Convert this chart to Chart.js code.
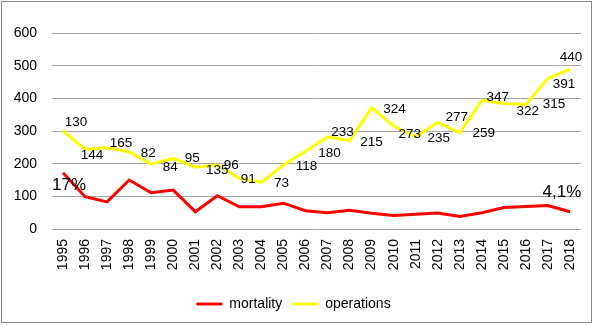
<!DOCTYPE html>
<html>
<head>
<meta charset="utf-8">
<script src="https://cdn.jsdelivr.net/npm/chart.js@4.4.1/dist/chart.umd.min.js"></script>
<style>
html,body{margin:0;padding:0;background:#fff;}
canvas{display:block;}
</style>
</head>
<body>
<canvas id="c" width="597" height="326"></canvas>
<script>
const years = ['1995','1996','1997','1998','1999','2000','2001','2002','2003','2004','2005','2006','2007','2008','2009','2010','2011','2012','2013','2014','2015','2016','2017','2018'];
const operations = [300,244,249,236,199,216,189,196,155,143,196,238,282,270,371,315,282,326,294,394,384,381,461,489];
const mortality = [172,99,83,150,111,119,53,102,68,68,79,56,50,57,48,41,45,49,38,50,66,69,72,53];
const operationLabels = ['130','144','165','82','84','95','135','96','91','73','118','180','233','215','324','273','235','277','259','347','322','315','391','440'];
const mortalityLabels = ['17%','','','','','','','','','','','','','','','','','','','','','','','4,1%'];
const yTicks = [0,100,200,300,400,500,600];

// label placement offsets (dx, dy) relative to each point
const opLabelOffsets = [[13,-9],[7,6],[14,-4],[19,1],[19,3],[19,0],[22,3],[14,0],[9,1],[20,1],[23,1],[24,2],[15,-5],[22,1],[23,1],[16,8],[23,1],[19,-5],[24,0],[16,-3],[24,8],[28,0],[16,6],[1,-12]];
const mortLabelOffsets = {0:[6,12], 23:[-8,-19]};

const FONT = "'Liberation Sans', Arial, sans-serif";

const labelPlugin = {
  id: 'labels',
  afterDatasetsDraw(chart) {
    const ctx = chart.ctx;
    ctx.save();
    ctx.textAlign = 'center';
    ctx.textBaseline = 'middle';
    ctx.fillStyle = '#000';
    const opMeta = chart.getDatasetMeta(1);
    ctx.font = "13.5px " + FONT;
    opMeta.data.forEach((pt, i) => {
      const o = opLabelOffsets[i];
      ctx.fillText(operationLabels[i], pt.x + o[0], pt.y + o[1]);
    });
    const mMeta = chart.getDatasetMeta(0);
    ctx.font = "17px " + FONT;
    mMeta.data.forEach((pt, i) => {
      if (!mortalityLabels[i]) return;
      const o = mortLabelOffsets[i];
      ctx.fillText(mortalityLabels[i], pt.x + o[0], pt.y + o[1]);
    });
    ctx.restore();
  }
};

const framePlugin = {
  id: 'frame',
  beforeDraw(chart) {
    const ctx = chart.ctx;
    ctx.save();
    ctx.fillStyle = '#fff';
    ctx.fillRect(0, 0, chart.width, chart.height);
    ctx.strokeStyle = '#8c8c8c';
    ctx.lineWidth = 1;
    ctx.strokeRect(1.5, 1.5, 590, 321);
    ctx.restore();
  }
};

new Chart(document.getElementById('c'), {
  type: 'line',
  data: {
    labels: years,
    datasets: [
      { label: 'mortality', data: mortality, borderColor: '#ff0000', backgroundColor: '#ff0000', borderWidth: 3, pointRadius: 0, tension: 0, fill: false },
      { label: 'operations', data: operations, borderColor: '#ffff00', backgroundColor: '#ffff00', borderWidth: 3, pointRadius: 0, tension: 0, fill: false }
    ]
  },
  options: {
    responsive: false,
    animation: false,
    devicePixelRatio: 1,
    layout: { padding: { top: 33, left: 0, right: 10, bottom: 5 } },
    plugins: {
      legend: {
        position: 'bottom',
        labels: {
          usePointStyle: true,
          pointStyle: 'line',
          pointStyleWidth: 26,
          padding: 10,
          color: '#000',
          font: { family: FONT, size: 14 }
        }
      },
      tooltip: { enabled: false }
    },
    scales: {
      x: {
        offset: true,
        grid: { display: false, drawTicks: false },
        border: { display: false },
        ticks: { minRotation: 90, maxRotation: 90, padding: 10, color: '#000', font: { family: FONT, size: 14 } },
        afterFit(scale) { scale.height = 58; }
      },
      y: {
        min: 0,
        max: 600,
        afterBuildTicks(scale) { scale.ticks = yTicks.map(v => ({ value: v })); },
        grid: { color: '#a6a6a6', lineWidth: 1, drawTicks: false },
        border: { display: false },
        ticks: { padding: 15, color: '#000', font: { family: FONT, size: 14 } },
        afterFit(scale) { scale.width = 52; }
      }
    }
  },
  plugins: [framePlugin, labelPlugin]
});
</script>
</body>
</html>
